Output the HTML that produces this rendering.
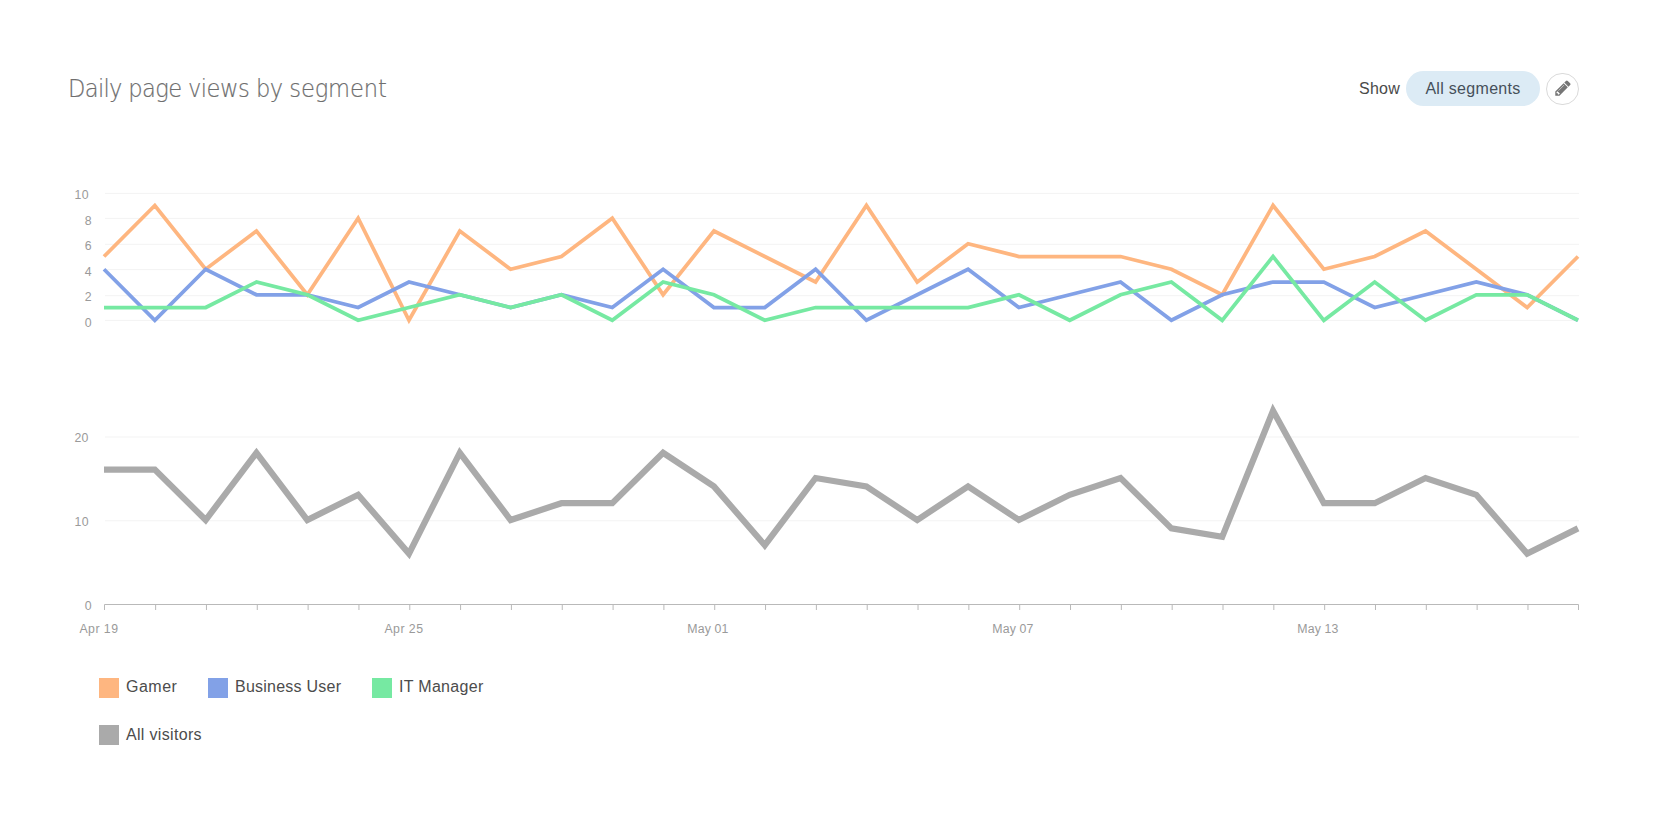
<!DOCTYPE html>
<html lang="en">
<head>
<meta charset="utf-8">
<title>Daily page views by segment</title>
<style>
html,body{margin:0;padding:0;background:#fff;}
body{width:1656px;height:825px;position:relative;overflow:hidden;font-family:"Liberation Sans",sans-serif;}
.title{position:absolute;left:68px;top:71px;font-family:"DejaVu Sans Light","DejaVu Sans","Liberation Sans",sans-serif;font-weight:200;font-size:24.3px;line-height:36px;color:#6e6e6e;white-space:nowrap;letter-spacing:-0.55px;transform-origin:0 0;transform:scaleX(0.93);-webkit-text-stroke:0.2px #6e6e6e;}
.show{position:absolute;left:1359.1px;top:78.5px;font-size:16px;line-height:20px;color:#4a4a4a;letter-spacing:0.2px;}
.pill{position:absolute;left:1406px;top:71px;width:134px;height:35px;border-radius:18px;background:#dcebf5;color:#46505a;font-size:16px;line-height:35px;text-align:center;letter-spacing:0.3px;}
.edit{position:absolute;left:1546.2px;top:72.8px;width:30.4px;height:30.4px;border:1px solid #dadada;border-radius:50%;background:#fff;}
svg.pencil{position:absolute;left:1554.3px;top:78.5px;}
svg.chart{position:absolute;left:0;top:0;}
.grid line{stroke:#f3f3f3;stroke-width:1;}
.axis line{stroke:#b9b9b9;stroke-width:1;}
.lab text{font-family:"Liberation Sans",sans-serif;font-size:12.3px;fill:#9a9a9a;letter-spacing:0.3px;}
.lab text.x{letter-spacing:0.48px;}
.lab text.m{letter-spacing:0.15px;}
.ln{fill:none;stroke-linejoin:miter;stroke-linecap:butt;}
.legend{position:absolute;font-size:16px;line-height:20px;color:#4c4c4c;white-space:nowrap;letter-spacing:0.35px;}
.legend i{position:absolute;left:0;top:0;width:20px;height:20px;display:block;}
.legend span{position:absolute;left:27px;top:-1px;}
</style>
</head>
<body>
<div class="title"><span style="letter-spacing:-0.73px">Daily </span><span style="letter-spacing:-0.68px">page </span>views by <span style="letter-spacing:-0.14px">segment</span></div>
<div class="show">Show</div>
<div class="pill">All segments</div>
<div class="edit"></div>
<svg class="pencil" width="18" height="18" viewBox="0 0 1792 1792"><path fill="#757575" d="M491 1536l91-91-235-235-91 91v107h128v128h107zm523-928q0-22-22-22-10 0-17 7l-542 542q-7 7-7 17 0 22 22 22 10 0 17-7l542-542q7-7 7-17zm-54-192l416 416-832 832h-416v-416zm683 96q0 53-37 90l-166 166-416-416 166-165q36-38 90-38 53 0 91 38l235 234q37 39 37 91z"/></svg>

<svg class="chart" width="1656" height="825" viewBox="0 0 1656 825">
<g class="grid"><line x1="105.0" x2="1579.0" y1="193.40" y2="193.40"/><line x1="105.0" x2="1579.0" y1="218.40" y2="218.40"/><line x1="105.0" x2="1579.0" y1="244.30" y2="244.30"/><line x1="105.0" x2="1579.0" y1="269.60" y2="269.60"/><line x1="105.0" x2="1579.0" y1="295.70" y2="295.70"/><line x1="105.0" x2="1579.0" y1="320.40" y2="320.40"/><line x1="105.0" x2="1579.0" y1="437.00" y2="437.00"/><line x1="105.0" x2="1579.0" y1="520.80" y2="520.80"/></g>
<g class="axis"><path d="M104.5,610.0V604.5H1578.5V610.0" fill="none" stroke="#b9b9b9"/><line x1="155.63" x2="155.63" y1="604.0" y2="610.0"/><line x1="206.46" x2="206.46" y1="604.0" y2="610.0"/><line x1="257.28" x2="257.28" y1="604.0" y2="610.0"/><line x1="308.11" x2="308.11" y1="604.0" y2="610.0"/><line x1="358.94" x2="358.94" y1="604.0" y2="610.0"/><line x1="409.77" x2="409.77" y1="604.0" y2="610.0"/><line x1="460.59" x2="460.59" y1="604.0" y2="610.0"/><line x1="511.42" x2="511.42" y1="604.0" y2="610.0"/><line x1="562.25" x2="562.25" y1="604.0" y2="610.0"/><line x1="613.08" x2="613.08" y1="604.0" y2="610.0"/><line x1="663.90" x2="663.90" y1="604.0" y2="610.0"/><line x1="714.73" x2="714.73" y1="604.0" y2="610.0"/><line x1="765.56" x2="765.56" y1="604.0" y2="610.0"/><line x1="816.39" x2="816.39" y1="604.0" y2="610.0"/><line x1="867.21" x2="867.21" y1="604.0" y2="610.0"/><line x1="918.04" x2="918.04" y1="604.0" y2="610.0"/><line x1="968.87" x2="968.87" y1="604.0" y2="610.0"/><line x1="1019.70" x2="1019.70" y1="604.0" y2="610.0"/><line x1="1070.52" x2="1070.52" y1="604.0" y2="610.0"/><line x1="1121.35" x2="1121.35" y1="604.0" y2="610.0"/><line x1="1172.18" x2="1172.18" y1="604.0" y2="610.0"/><line x1="1223.01" x2="1223.01" y1="604.0" y2="610.0"/><line x1="1273.83" x2="1273.83" y1="604.0" y2="610.0"/><line x1="1324.66" x2="1324.66" y1="604.0" y2="610.0"/><line x1="1375.49" x2="1375.49" y1="604.0" y2="610.0"/><line x1="1426.32" x2="1426.32" y1="604.0" y2="610.0"/><line x1="1477.14" x2="1477.14" y1="604.0" y2="610.0"/><line x1="1527.97" x2="1527.97" y1="604.0" y2="610.0"/></g>
<g class="lab"><text x="74.5" y="199.1">10</text><text x="84.8" y="224.6">8</text><text x="84.8" y="250.1">6</text><text x="84.8" y="275.7">4</text><text x="84.8" y="301.2">2</text><text x="84.8" y="326.7">0</text><text x="74.4" y="441.9">20</text><text x="74.5" y="526.0">10</text><text x="84.8" y="610.0">0</text><text class="x" x="79.4" y="633">Apr 19</text><text class="x" x="384.4" y="633">Apr 25</text><text class="m" x="687.3" y="633">May 01</text><text class="m" x="992.3" y="633">May 07</text><text class="m" x="1297.3" y="633">May 13</text></g>
<g>
<polyline class="ln" stroke="#feb680" stroke-width="3.75" points="104.00,256.50 154.83,205.46 205.66,269.26 256.48,230.98 307.31,294.78 358.14,218.22 408.97,320.30 459.79,230.98 510.62,269.26 561.45,256.50 612.28,218.22 663.10,294.78 713.93,230.98 764.76,256.50 815.59,282.02 866.41,205.46 917.24,282.02 968.07,243.74 1018.90,256.50 1069.72,256.50 1120.55,256.50 1171.38,269.26 1222.21,294.78 1273.03,205.46 1323.86,269.26 1374.69,256.50 1425.52,230.98 1476.34,269.26 1527.17,307.54 1578.00,256.50"/>
<polyline class="ln" stroke="#82a1e7" stroke-width="3.75" points="104.00,269.26 154.83,320.30 205.66,269.26 256.48,294.78 307.31,294.78 358.14,307.54 408.97,282.02 459.79,294.78 510.62,307.54 561.45,294.78 612.28,307.54 663.10,269.26 713.93,307.54 764.76,307.54 815.59,269.26 866.41,320.30 917.24,294.78 968.07,269.26 1018.90,307.54 1069.72,294.78 1120.55,282.02 1171.38,320.30 1222.21,294.78 1273.03,282.02 1323.86,282.02 1374.69,307.54 1425.52,294.78 1476.34,282.02 1527.17,294.78 1578.00,320.30"/>
<polyline class="ln" stroke="#76e9a2" stroke-width="3.75" points="104.00,307.54 154.83,307.54 205.66,307.54 256.48,282.02 307.31,294.78 358.14,320.30 408.97,307.54 459.79,294.78 510.62,307.54 561.45,294.78 612.28,320.30 663.10,282.02 713.93,294.78 764.76,320.30 815.59,307.54 866.41,307.54 917.24,307.54 968.07,307.54 1018.90,294.78 1069.72,320.30 1120.55,294.78 1171.38,282.02 1222.21,320.30 1273.03,256.50 1323.86,320.30 1374.69,282.02 1425.52,320.30 1476.34,294.78 1527.17,294.78 1578.00,320.30"/>
</g>
<g>
<polyline class="ln" stroke="#aaaaaa" stroke-width="6.2" points="104.00,469.60 154.83,469.60 205.66,520.00 256.48,452.80 307.31,520.00 358.14,494.80 408.97,553.60 459.79,452.80 510.62,520.00 561.45,503.20 612.28,503.20 663.10,452.80 713.93,486.40 764.76,545.20 815.59,478.00 866.41,486.40 917.24,520.00 968.07,486.40 1018.90,520.00 1069.72,494.80 1120.55,478.00 1171.38,528.40 1222.21,536.80 1273.03,410.80 1323.86,503.20 1374.69,503.20 1425.52,478.00 1476.34,494.80 1527.17,553.60 1578.00,528.40"/>
</g>
</svg>

<div class="legend" style="left:99px;top:678px;"><i style="background:#feb680"></i><span style="letter-spacing:0.5px">Gamer</span></div>
<div class="legend" style="left:208px;top:678px;"><i style="background:#82a1e7"></i><span style="letter-spacing:0.24px">Business User</span></div>
<div class="legend" style="left:372px;top:678px;"><i style="background:#76e9a2"></i><span style="letter-spacing:0.3px">IT Manager</span></div>
<div class="legend" style="left:99px;top:725px;"><i style="background:#aaaaaa"></i><span style="letter-spacing:0.32px;top:0.1px">All visitors</span></div>
</body>
</html>
